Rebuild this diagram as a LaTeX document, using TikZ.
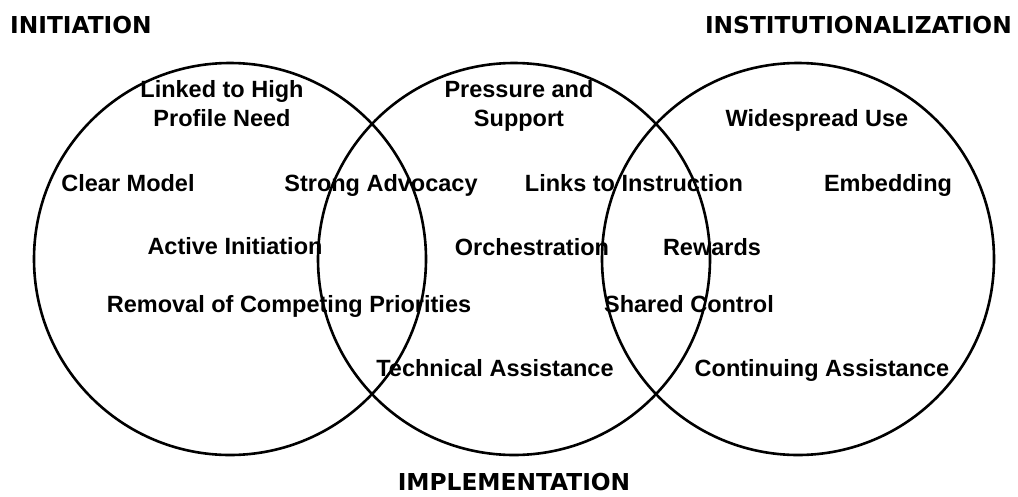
\documentclass[tikz,border=0pt]{standalone}
\usepackage{fontspec}
\setmainfont{Liberation Sans}
\newfontfamily\headfont{DejaVu Sans}
\usepackage{tikz}

\tikzset{
  item/.style={font=\fontsize{23.5}{29}\selectfont\bfseries, anchor=base, inner sep=0pt, align=center},
  stage/.style={font=\headfont\fontsize{23.3}{28}\selectfont\bfseries, inner sep=0pt},
  ring/.style={line width=2.6pt}
}

\begin{document}
\begin{tikzpicture}[x=1pt,y=-1pt]
    \useasboundingbox (0,0) rectangle (1018,496);
    % the three circles
    \coordinate (init) at (230,259);
    \coordinate (impl) at (514,259);
    \coordinate (inst) at (798,259);
    \draw[ring] (init) circle (196pt);
    \draw[ring] (impl) circle (196pt);
    \draw[ring] (inst) circle (196pt);
    % stage titles
    \node[stage, anchor=base west] (initT) at (10,33)   {INITIATION};
    \node[stage, anchor=base east] (instT) at (1012,33) {INSTITUTIONALIZATION};
    \node[stage, anchor=base]      (implT) at (514,490) {IMPLEMENTATION};
    % factors
    \node[item] (linked)  at (222,126) {Linked to High\\Profile Need};
    \node[item] (press)   at (519,126) {Pressure and\\Support};
    \node[item] (wide)    at (817,126) {Widespread Use};
    \node[item] (clear)   at (128,191) {Clear Model};
    \node[item] (strong)  at (381,191) {Strong Advocacy};
    \node[item] (links)   at (634,191) {Links to Instruction};
    \node[item] (embed)   at (888,191) {Embedding};
    \node[item] (active)  at (235,254) {Active Initiation};
    \node[item] (orch)    at (532,255) {Orchestration};
    \node[item] (reward)  at (712,255) {Rewards};
    \node[item] (removal) at (289,312) {Removal of Competing Priorities};
    \node[item] (shared)  at (689,312) {Shared Control};
    \node[item] (tech)    at (495,376) {Technical Assistance};
    \node[item] (cont)    at (822,376) {Continuing Assistance};
\end{tikzpicture}
\end{document}
